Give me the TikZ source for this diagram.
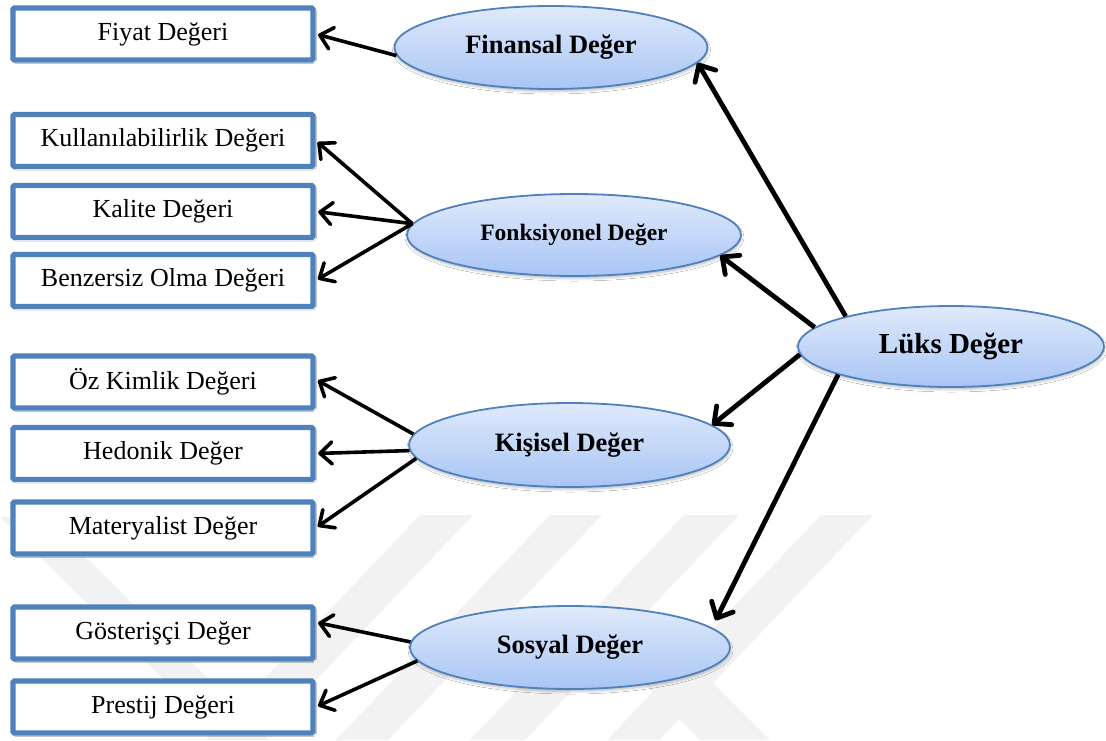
\documentclass[tikz,border=0pt]{standalone}
\usepackage{fontspec}
\setmainfont{Liberation Serif}
\usetikzlibrary{shapes.geometric,arrows.meta,shadows.blur,calc}
\definecolor{frameblue}{HTML}{4F81BD}
\definecolor{ovaltop}{HTML}{E0EAFC}
\definecolor{ovalbot}{HTML}{A8C5F4}
\definecolor{wmgray}{HTML}{F2F2F2}
\begin{document}
\begin{tikzpicture}[x=1pt,y=-1pt,
  valbox/.style={draw=frameblue, line width=5.4pt, rounded corners=1.5pt, fill=white,
    minimum width=300pt, minimum height=52pt, inner sep=0pt,
    font=\fontsize{26}{30}\selectfont,
    blur shadow={shadow xshift=1.5pt, shadow yshift=-1.5pt, shadow blur radius=2pt, shadow opacity=20}},
  oval/.style={ellipse, draw=frameblue, line width=1.8pt, top color=ovaltop, bottom color=ovalbot,
    inner sep=0pt, font=\bfseries\fontsize{26.5}{30}\selectfont,
    blur shadow={shadow xshift=0.5pt, shadow yshift=-2.5pt, shadow blur radius=2.5pt, shadow opacity=25}},
  link/.style={line width=3.6pt, -{Straight Barb[length=12pt,width=22pt,round]}, shorten >=2.5pt},
  biglink/.style={line width=4.8pt, -{Straight Barb[length=13pt,width=24pt,round]}}
]
\useasboundingbox (0,0) rectangle (1106,740);
\fill[white] (0,0) rectangle (1106,740);

% faint background emblem
\begin{scope}
\clip (0,0) rectangle (1106,740);
\fill[wmgray] (0,517) -- (45,517) -- (270,740) -- (225,740) -- cycle;
\fill[wmgray] (420,515) -- (473,515) -- (259,740) -- (206,740) -- cycle;
\fill[wmgray] (550,515) -- (602,515) -- (388,740) -- (336,740) -- cycle;
\fill[wmgray] (684,515) -- (739,515) -- (525,740) -- (470,740) -- cycle;
\fill[wmgray] (821,515) -- (873,515) -- (659,740) -- (607,740) -- cycle;
\fill[wmgray] (600,640) -- (670,640) -- (770,740) -- (700,740) -- cycle;
\end{scope}

% value boxes
\node[valbox] (fiyat) at (163,34)    {Fiyat Değeri};
\node[valbox] (kul)   at (163,140.5) {Kullanılabilirlik Değeri};
\node[valbox] (kal)   at (163,211.5) {Kalite Değeri};
\node[valbox] (ben)   at (163,280.5) {Benzersiz Olma Değeri};
\node[valbox] (oz)    at (163,382)   {Öz Kimlik Değeri};
\node[valbox] (hed)   at (163,453.5) {Hedonik Değer};
\node[valbox] (mat)   at (163,528)   {Materyalist Değer};
\node[valbox] (gos)   at (163,633)   {Gösterişçi Değer};
\node[valbox] (pre)   at (163,707)   {Prestij Değeri};

% value groups
\node[oval, minimum width=313pt, minimum height=83pt] (fin)  at (551,47.5) {Finansal Değer};
\node[oval, minimum width=334pt, minimum height=82pt, font=\bfseries\fontsize{23.5}{28}\selectfont] (fonk) at (574,235) {Fonksiyonel Değer};
\node[oval, minimum width=321pt, minimum height=84pt] (kis)  at (569.5,445) {Kişisel Değer};
\node[oval, minimum width=320pt, minimum height=83pt] (sos)  at (570,647.5) {Sosyal Değer};
\node[oval, minimum width=306pt, minimum height=81pt, font=\bfseries\fontsize{29}{33}\selectfont] (lux) at (951,346.5) {Lüks Değer};

% luxury value to its four dimensions
\draw[biglink] (lux.164) -- (fin.-6);
\draw[biglink] (lux.172) -- (fonk.-8);
\draw[biglink] (lux.183) -- (kis.8);
\draw[biglink, shorten >=8pt] (lux.194) -- (sos.8);

% dimensions to their components
\draw[link] (fin.183) -- (fiyat.east);
\draw[link] (fonk.176) -- (kul.east);
\draw[link] (fonk.176) -- (kal.east);
\draw[link] (fonk.176) -- (ben.east);
\draw[link] (kis.176) -- (oz.1.5);
\draw[link] (kis.182) -- (hed.east);
\draw[link] (kis.185) -- (mat.east);
\draw[link] (sos.178) -- (gos.4);
\draw[link] (sos.185) -- (pre.east);
\end{tikzpicture}
\end{document}
